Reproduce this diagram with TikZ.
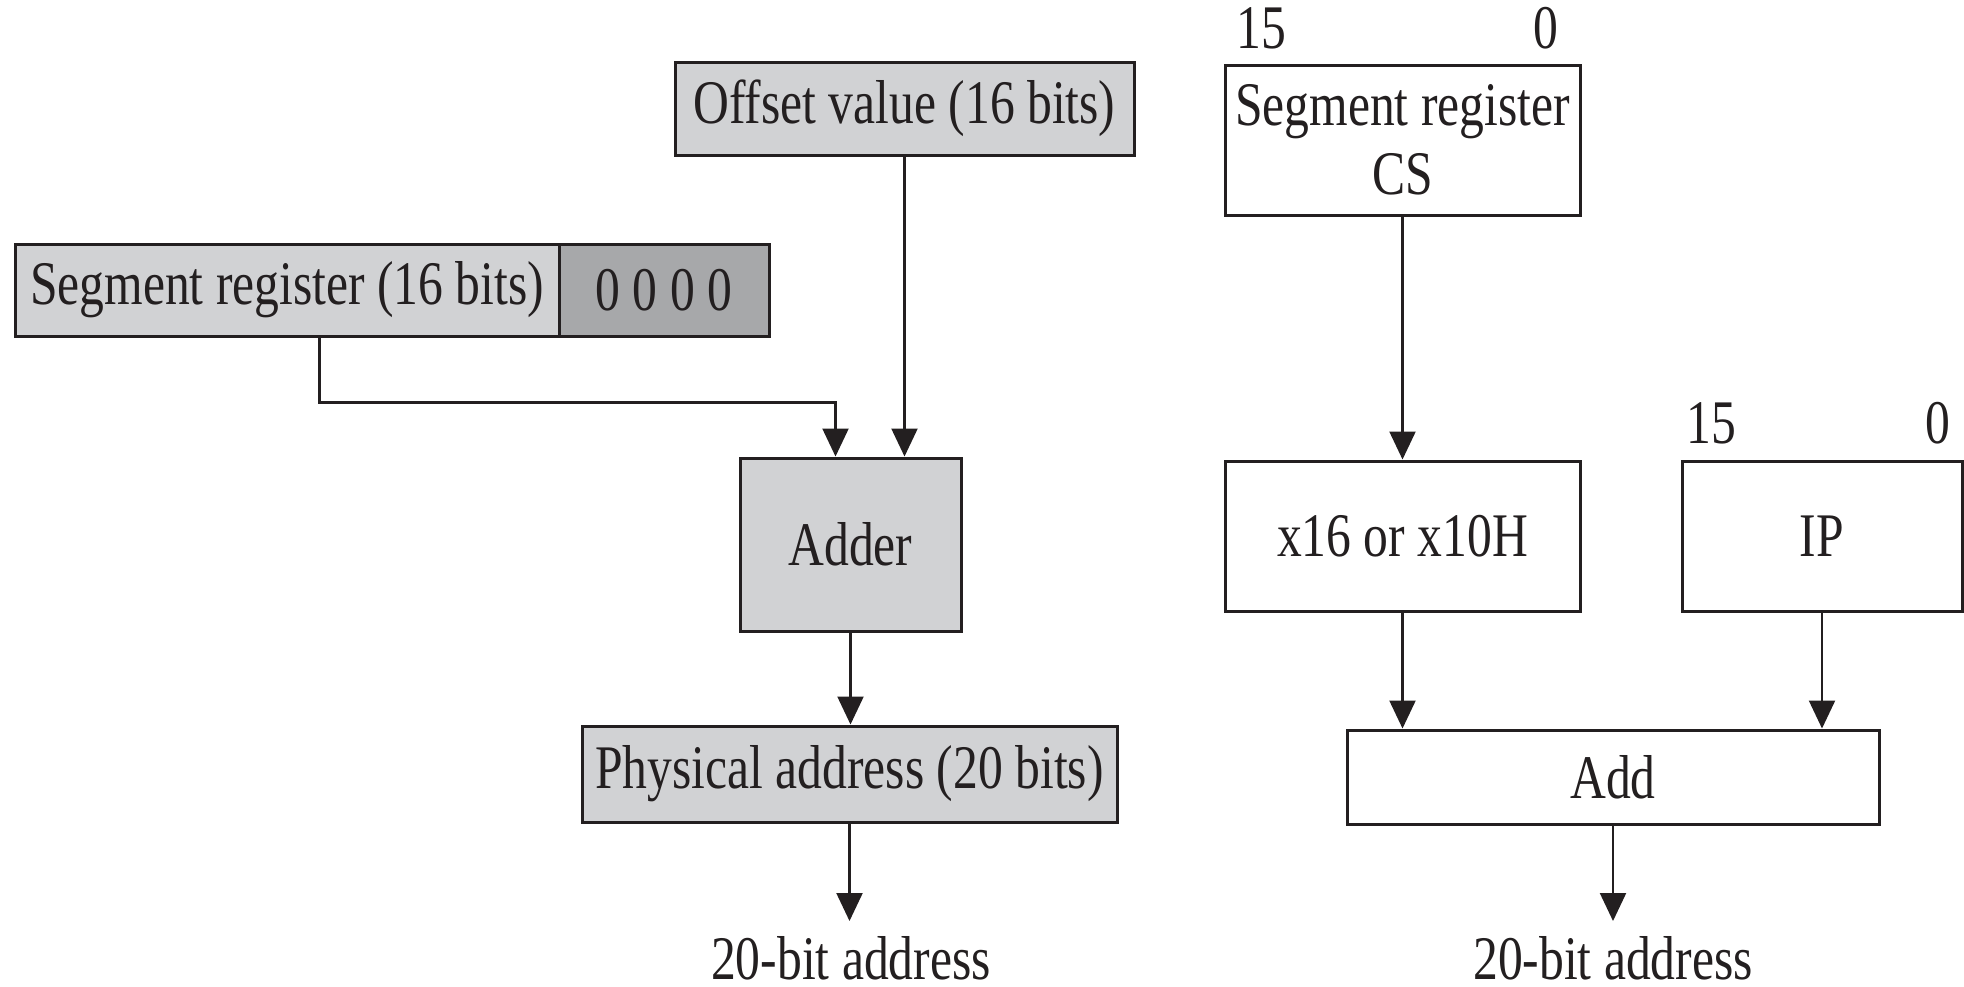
\documentclass[tikz,border=0pt]{standalone}
\usepackage{fontspec}
\setmainfont{Liberation Serif}[FakeStretch=0.8]
\usetikzlibrary{arrows.meta,calc}
\definecolor{boxgray}{HTML}{D1D2D4}
\definecolor{darkgray}{HTML}{A7A8AA}
\definecolor{ink}{HTML}{231F20}
\begin{document}
\begin{tikzpicture}[x=0.5pt,y=-0.5pt,
  every node/.style={font=\fontsize{31pt}{34.5pt}\selectfont, text=ink},
  box/.style={draw=ink, line width=1.5pt, inner sep=0pt, align=center},
  grey/.style={box, fill=boxgray},
  dgrey/.style={box, fill=darkgray},
  white/.style={box, fill=white},
  plain/.style={inner sep=0pt},
  arr/.style={draw=ink, line width=1.1pt, -{Triangle[length=14pt,width=13pt]}}]
\useasboundingbox (0,0) rectangle (1964,986);
% left diagram
\node[grey, minimum width=229.5pt, minimum height=46.5pt] (offset) at (904.5,108.5) {Offset value (16 bits)};
\node[grey, minimum width=272pt, minimum height=46pt] (seg) at (287,290) {Segment register (16 bits)};
\node[dgrey, minimum width=105pt, minimum height=46pt] (zeros) at (664,290) {0 0 0 0};
\node[grey, minimum width=110.5pt, minimum height=86.5pt] (adder) at (850.5,544.5) {Adder};
\node[grey, minimum width=267.5pt, minimum height=48pt] (phys) at (849.5,774) {Physical address (20 bits)};
\node[plain] (addr1) at (851,958) {20-bit address};
\coordinate (end1) at (851,921);
\draw[arr] ([xshift=153pt]seg.south west) -- ++(0,65) -| ([xshift=48.5pt]adder.north west);
\draw[arr] (offset.south) -- (offset.south |- adder.north);
\draw[arr] (adder.south) -- (adder.south |- phys.north);
\draw[arr] (phys.south) -- (phys.south |- end1);
% right diagram
\node[white, minimum width=177.5pt, minimum height=75pt] (cs) at (1402.5,140) {Segment register\\CS};
\node[white, minimum width=177.5pt, minimum height=75pt] (x16) at (1402.5,536) {x16 or x10H};
\node[white, minimum width=140pt, minimum height=75pt] (ip) at (1822,536) {IP};
\node[white, minimum width=266pt, minimum height=47pt] (add) at (1613,777) {Add};
\node[plain] (addr2) at (1613,958) {20-bit address};
\coordinate (end2) at (1613,921);
\node[plain] (cs15) at (1261,28) {15};
\node[plain] (cs0) at (1546,28) {0};
\node[plain] (ip15) at (1711,423) {15};
\node[plain] (ip0) at (1938,423) {0};
\draw[arr] (cs.south) -- (x16.north);
\draw[arr] (x16.south) -- (x16.south |- add.north);
\draw[arr] (ip.south) -- (ip.south |- add.north);
\draw[arr] (add.south) -- (add.south |- end2);
\end{tikzpicture}
\end{document}
